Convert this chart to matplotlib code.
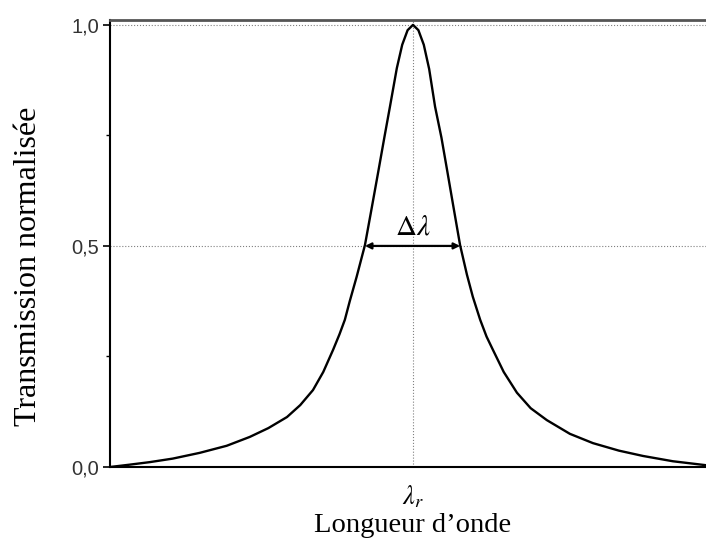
import matplotlib.pyplot as plt

plt.rcParams['mathtext.fontset'] = 'stix'

# position relative to resonance (in half-width units) and normalised
# transmission
dlam = [-6.18, -5.8, -5.37, -4.9, -4.35, -3.8, -3.33, -2.95, -2.57, -2.3,
        -2.04, -1.83, -1.63, -1.5, -1.39, -1.29, -1.15, -0.98, -0.85, -0.71,
        -0.58, -0.47, -0.33, -0.22, -0.11, 0.0,
        0.11, 0.22, 0.33, 0.45, 0.58, 0.69, 0.83, 0.96, 1.1, 1.22,
        1.37, 1.5, 1.63, 1.85, 2.12, 2.4, 2.73, 3.2, 3.67, 4.2,
        4.69, 5.3, 5.98]
trans = [0.0, 0.005, 0.011, 0.019, 0.032, 0.048, 0.068, 0.088, 0.113, 0.140,
         0.174, 0.215, 0.265, 0.300, 0.333, 0.375, 0.430, 0.502, 0.581, 0.667,
         0.748, 0.815, 0.902, 0.955, 0.988, 1.0,
         0.988, 0.955, 0.900, 0.815, 0.745, 0.675, 0.585, 0.502, 0.435, 0.385,
         0.333, 0.295, 0.265, 0.215, 0.168, 0.133, 0.106, 0.075, 0.054, 0.037,
         0.025, 0.013, 0.004]

fwhm_left = -0.98
fwhm_right = 0.96
ytick_vals = [0.0, 0.5, 1.0]
ytick_labels = ['0,0', '0,5', '1,0']

fig = plt.figure(figsize=(7.06, 5.4), dpi=100)
ax = fig.add_axes([110/706, 73/540, 606/706, 447/540])

ax.plot(dlam, trans, color='black', lw=1.7, zorder=3)

# guide lines
ax.axhline(0.5, color='gray', lw=0.8, ls=':', zorder=1)
ax.axhline(1.0, color='gray', lw=0.8, ls=':', zorder=1)
ax.axvline(0.0, color='gray', lw=0.8, ls=':', zorder=1)

# FWHM arrow
ax.annotate('', xy=(fwhm_left, 0.5), xytext=(fwhm_right, 0.5),
            arrowprops=dict(arrowstyle='<|-|>', color='black', lw=1.6,
                            mutation_scale=9, shrinkA=0, shrinkB=0), zorder=4)
ax.text(0.0, 0.545, r'$\Delta\lambda$', ha='center', va='center', fontsize=21)

ax.set_xlim(-6.18, 6.18)
ax.set_ylim(0, 1.011)

ax.set_yticks(ytick_vals)
ax.set_yticklabels(ytick_labels, fontfamily='Liberation Sans', fontsize=14.5, color='#333333')
ax.set_yticks([0.25, 0.75], minor=True)
ax.tick_params(axis='y', which='major', direction='out', length=5, width=1.2, pad=3)
ax.tick_params(axis='y', which='minor', direction='out', length=3, width=1.0)

ax.set_xticks([0.0])
ax.set_xticklabels([r'$\lambda_r$'], fontsize=19)
ax.tick_params(axis='x', length=0, pad=12)

ax.set_ylabel('Transmission normalisée', fontfamily='Liberation Serif', fontsize=23)
ax.yaxis.set_label_coords(-0.11, 0.45)
ax.set_xlabel('Longueur d\u2019onde', fontfamily='Liberation Serif', fontsize=20.5, labelpad=2)

ax.spines['right'].set_visible(False)
ax.spines['left'].set_linewidth(1.5)
ax.spines['bottom'].set_linewidth(1.5)
ax.spines['top'].set_linewidth(2.0)
ax.spines['top'].set_color('#555555')

fig.savefig('out.png', dpi=100)
